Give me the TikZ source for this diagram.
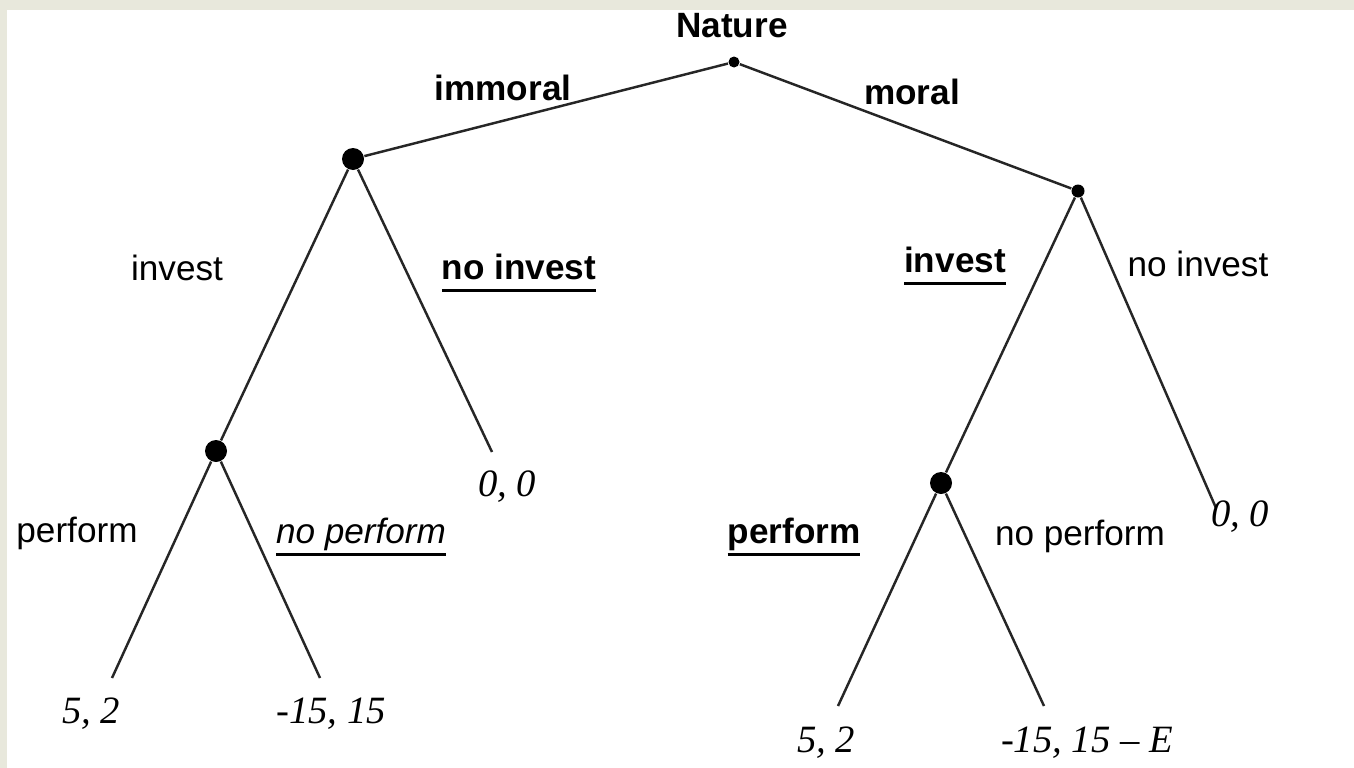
\documentclass[tikz,border=0pt]{standalone}
\usepackage{fontspec}
\setmainfont{Liberation Serif}
\setsansfont{Liberation Sans}
\usepackage{tikz}
\usetikzlibrary{positioning}

% thick underline for the chosen moves
\newcommand{\ulbox}[1]{\setbox0\hbox{#1}\rlap{\rule[-3.6pt]{\wd0}{0.9pt}}\box0}

\definecolor{framebeige}{HTML}{E8E8DC}

\begin{document}
\begin{tikzpicture}[
    move/.style={font=\sffamily\fontsize{10}{12}\selectfont, inner sep=1pt},
    boldmove/.style={move, font=\sffamily\bfseries\fontsize{10}{12}\selectfont},
    payoff/.style={font=\itshape\fontsize{11}{13}\selectfont, inner sep=1pt},
    bigdot/.style={circle, fill=black, inner sep=0pt, minimum size=0.22cm},
    smalldot/.style={circle, fill=black, inner sep=0pt, minimum size=0.13cm},
    branch/.style={line width=0.7pt, black!85}
]

% frame
\fill[framebeige] (0,0) rectangle (13.54,-7.68);
\fill[white] (0.07,-0.10) rectangle (13.54,-7.68);
\useasboundingbox (0,0) rectangle (13.54,-7.68);

%% decision nodes
\node[smalldot, minimum size=0.11cm](nat) at (7.34,-0.62){};
\node[bigdot](imm) at (3.53,-1.59){};
\node[smalldot](mor) at (10.78,-1.91){};
\node[bigdot](imminv) at (2.16,-4.51){};
\node[bigdot](morinv) at (9.41,-4.83){};

% ends of the branches
\coordinate (immno) at (4.92,-4.52);
\coordinate (morno) at (12.16,-5.08);
\coordinate (leaf1) at (1.12,-6.78);
\coordinate (leaf2) at (3.20,-6.78);
\coordinate (leaf3) at (8.38,-7.06);
\coordinate (leaf4) at (10.44,-7.06);

% branches
\draw[branch] (nat) -- (imm);
\draw[branch] (nat) -- (mor);
\draw[branch] (imm) -- (imminv);
\draw[branch] (imm) -- (immno);
\draw[branch] (mor) -- (morinv);
\draw[branch] (mor) -- (morno);
\draw[branch] (imminv) -- (leaf1);
\draw[branch] (imminv) -- (leaf2);
\draw[branch] (morinv) -- (leaf3);
\draw[branch] (morinv) -- (leaf4);

% move labels
\node[boldmove](lnat) at (7.32,-0.26){Nature};
\node[boldmove](limm) at (5.03,-0.88){immoral};
\node[boldmove](lmor) at (9.12,-0.92){moral};
\node[move](linv1) at (1.77,-2.68){invest};
\node[boldmove](lno1) at (5.19,-2.73){\ulbox{no invest}};
\node[boldmove](linv2) at (9.55,-2.66){\ulbox{invest}};
\node[move](lno2) at (11.98,-2.64){no invest};
\node[move](lper1) at (0.77,-5.33){perform};
\node[move, font=\sffamily\itshape\fontsize{10}{12}\selectfont](lnp1) at (3.61,-5.37){\ulbox{no perform}};
\node[boldmove](lper2) at (7.94,-5.37){\ulbox{perform}};
\node[move](lnp2) at (10.80,-5.36){no perform};

% payoffs
\node[payoff](pay1) at (5.07,-4.87){0, 0};
\node[payoff](pay2) at (12.40,-5.17){0, 0};
\node[payoff](pay3) at (0.91,-7.14){5, 2};
\node[payoff](pay4) at (3.31,-7.14){-15, 15};
\node[payoff](pay5) at (8.26,-7.43){5, 2};
\node[payoff](pay6) at (10.87,-7.43){-15, 15 {\upshape\textendash} E};

\end{tikzpicture}
\end{document}
